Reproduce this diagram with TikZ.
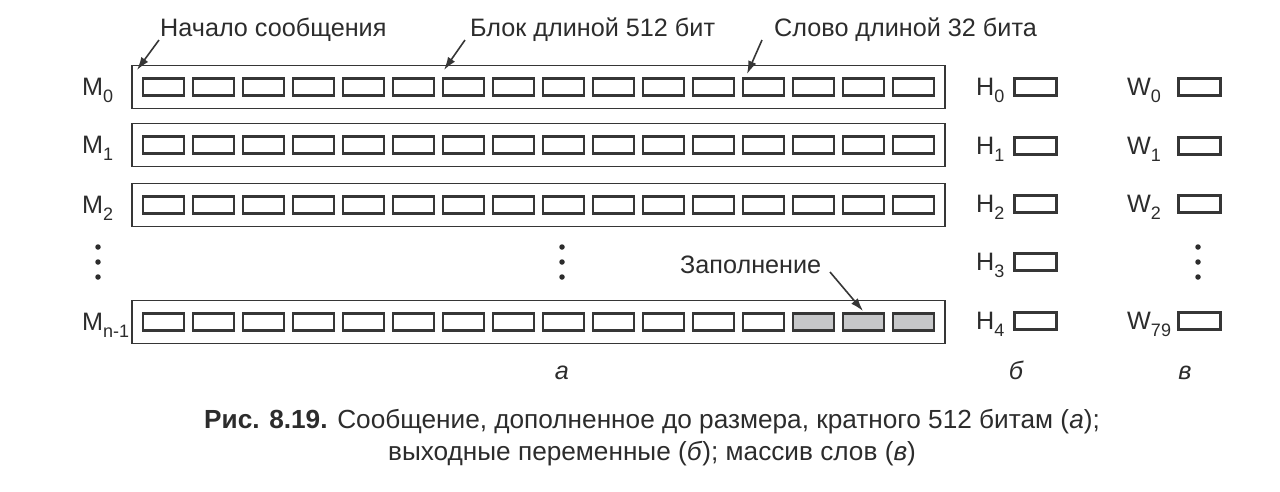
\documentclass[tikz,border=0pt]{standalone}
\usepackage{fontspec}
\setmainfont{Liberation Sans}
\usetikzlibrary{arrows.meta}
\definecolor{lc}{HTML}{363636}
\definecolor{tc}{HTML}{2C2C2C}
\definecolor{padgray}{HTML}{C6C7C9}
\newcommand{\lsub}[1]{\raisebox{-0.28em}{\fontsize{18}{20}\selectfont #1}}
\begin{document}
\begin{tikzpicture}[x=1pt,y=-1pt,
  outerbox/.style={draw=lc, line width=1.3pt, minimum width=813pt, minimum height=43pt, inner sep=0pt},
  wordbox/.style={draw=lc, line width=2.2pt, minimum width=41pt, minimum height=17pt, inner sep=0pt},
  padbox/.style={wordbox, fill=padgray},
  regbox/.style={draw=lc, line width=2.2pt, minimum width=42pt, minimum height=17pt, inner sep=0pt},
  lbl/.style={font=\fontsize{25.2}{30}\selectfont, text=tc, inner sep=0pt},
  captext/.style={font=\fontsize{26.2}{31}\selectfont, text=tc, inner sep=0pt, anchor=base},
  arr/.style={draw=lc, line width=1.6pt, -{Latex[length=13pt,width=8.5pt]}},
  dotmark/.style={circle, fill=tc, inner sep=0pt, minimum size=5.5pt}
]
\useasboundingbox (0,0) rectangle (1280,491);

% message blocks
\foreach \r/\y in {0/87,1/145,2/205} {
  \node[outerbox] (row\r) at (538.5,\y) {};
  \foreach \k in {0,...,15} {
    \node[wordbox] (w\r-\k) at ({163.5+50*\k},\y) {};
  }
}
\node[outerbox] (row3) at (538.5,322) {};
\foreach \k in {0,...,12} {
  \node[wordbox] (w3-\k) at ({163.5+50*\k},322) {};
}
\foreach \k in {13,14,15} {
  \node[padbox] (w3-\k) at ({163.5+50*\k},322) {};
}

% M labels
\node[lbl, anchor=base west] (m0) at (82,95) {M\lsub{0}};
\node[lbl, anchor=base west] (m1) at (82,153) {M\lsub{1}};
\node[lbl, anchor=base west] (m2) at (82,213) {M\lsub{2}};
\node[lbl, anchor=base west] (mn) at (82,330) {M\lsub{n-1}};

% H registers
\foreach \i/\y in {0/87,1/146,2/204,3/262,4/321} {
  \node[regbox] (h\i) at (1035.5,\y) {};
  \node[lbl, anchor=base west] (hl\i) at (976,\y+8) {H\lsub{\i}};
}

% W array
\foreach \i/\y in {0/87,1/146,2/204} {
  \node[regbox] (wa\i) at (1199.5,\y) {};
  \node[lbl, anchor=base west] (wl\i) at (1127,\y+8) {W\lsub{\i}};
}
\node[regbox] (wa79) at (1199.5,321) {};
\node[lbl, anchor=base west] (wl79) at (1127,329) {W\lsub{79}};

% dots
\foreach \x/\n in {98/l,562/c,1198/r} {
  \node[dotmark] (\n d1) at (\x,247) {};
  \node[dotmark] (\n d2) at (\x,262) {};
  \node[dotmark] (\n d3) at (\x,277) {};
}

% top labels and arrows
\node[lbl, anchor=base west] (lstart) at (160,36) {Начало сообщения};
\node[lbl, anchor=base west] (lblock) at (470,36) {Блок длиной 512 бит};
\node[lbl, anchor=base west] (lword) at (774,36) {Слово длиной 32 бита};
\node[lbl, anchor=base west] (lpad) at (680,273) {Заполнение};

\coordinate (s1) at (159,40);
\coordinate (t1) at (137,70);
\coordinate (s2) at (465,40);
\coordinate (t2) at (444,70);
\coordinate (s3) at (762,40);
\coordinate (t3) at (747,74);
\coordinate (s4) at (830,272);
\coordinate (t4) at (863,311);
\draw[arr] (s1) -- (t1);
\draw[arr] (s2) -- (t2);
\draw[arr] (s3) -- (t3);
\draw[arr] (s4) -- (t4);

% part labels
\node[lbl, anchor=base] (pa) at (562,379) {\itshape а};
\node[lbl, anchor=base] (pb) at (1016,379) {\itshape б};
\node[lbl, anchor=base] (pc) at (1185,379) {\itshape в};

% caption
\node[captext] (cap1) at (652,428) {\textbf{Рис. 8.19.} Сообщение, дополненное до размера, кратного 512 битам (\textit{а});};
\node[captext] (cap2) at (652,460) {выходные переменные (\textit{б}); массив слов (\textit{в})};
\end{tikzpicture}
\end{document}
